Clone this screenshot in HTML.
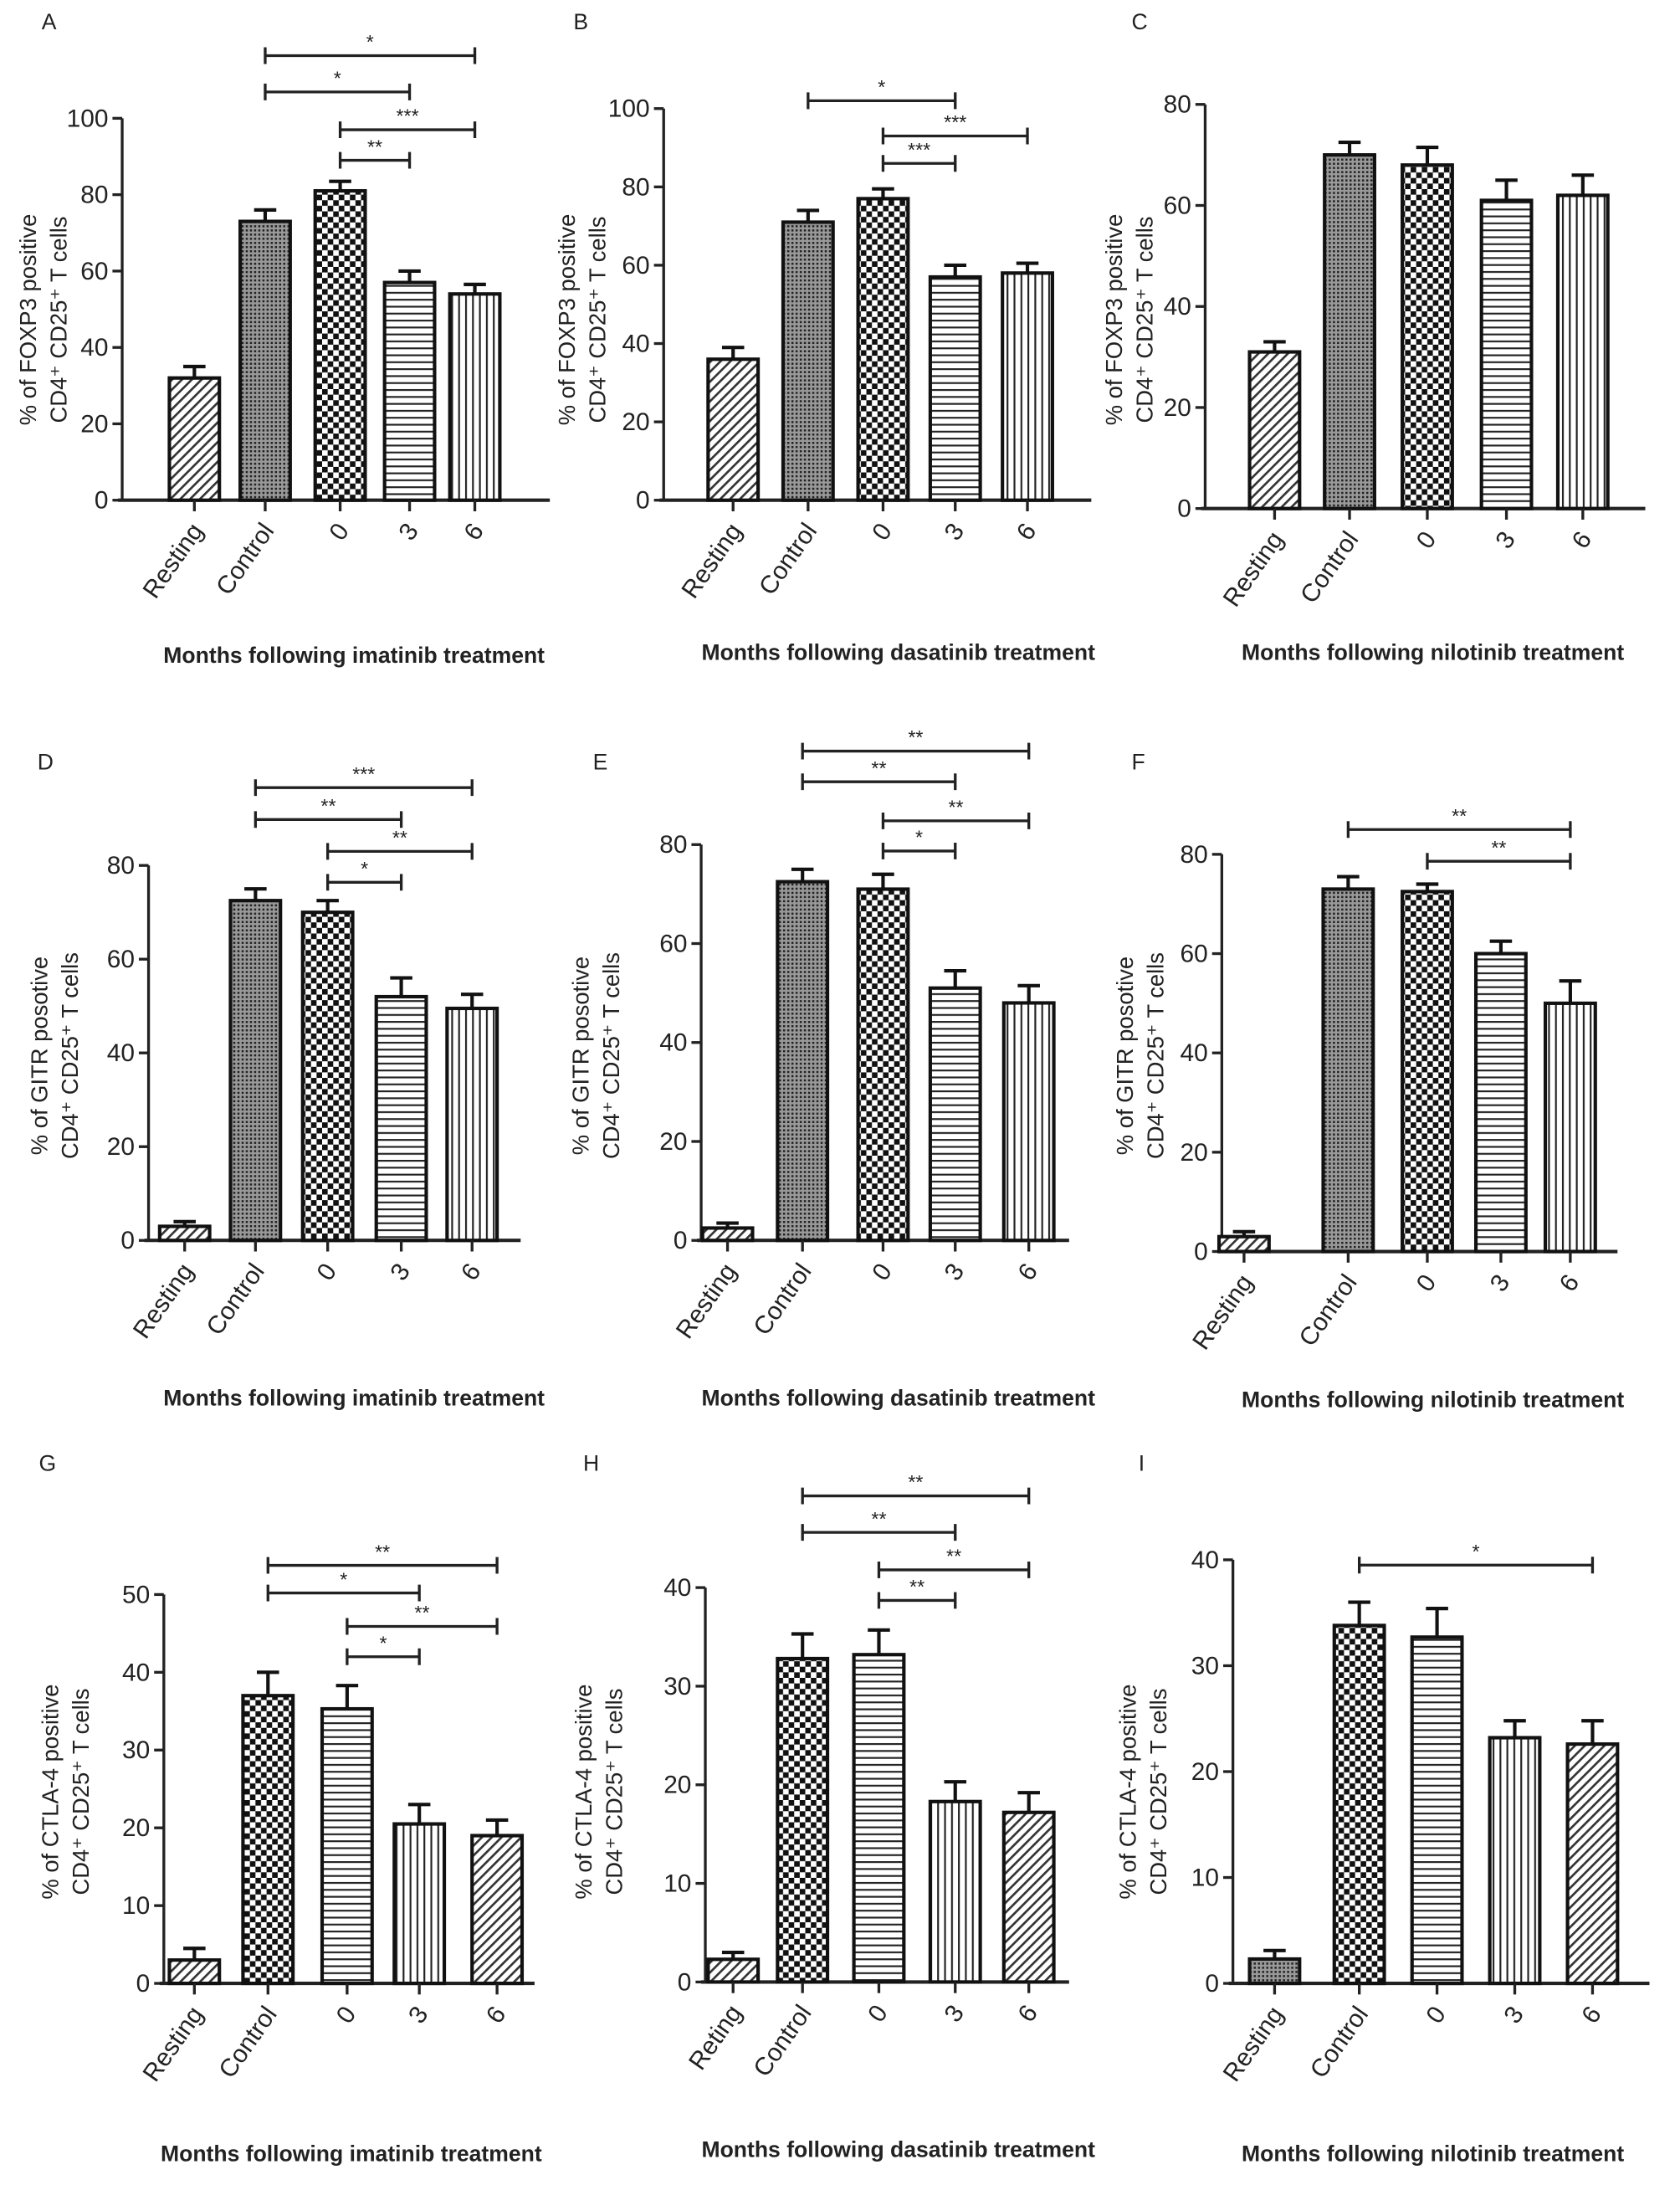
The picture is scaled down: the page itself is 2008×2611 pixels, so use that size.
<!DOCTYPE html>
<html><head><meta charset="utf-8">
<style>
html,body{margin:0;padding:0;background:#fff;}
svg{display:block;}
text{font-family:"Liberation Sans",Arial,sans-serif;fill:#222;}
</style></head>
<body>
<svg id="fig" width="2008" height="2611" viewBox="0 0 1210 1573" xmlns="http://www.w3.org/2000/svg">
<defs>
<pattern id="p-diag" patternUnits="userSpaceOnUse" width="5" height="5" patternTransform="rotate(45)"><rect width="5" height="5" fill="#fff"/><rect width="1.6" height="5" fill="#333"/></pattern>
<pattern id="p-dots" patternUnits="userSpaceOnUse" width="3" height="3"><rect width="3" height="3" fill="#999"/><rect width="1.5" height="1.5" fill="#222"/></pattern>
<pattern id="p-check" patternUnits="userSpaceOnUse" width="8" height="8"><rect width="8" height="8" fill="#fff"/><rect width="4" height="4" fill="#111"/><rect x="4" y="4" width="4" height="4" fill="#111"/></pattern>
<pattern id="p-horiz" patternUnits="userSpaceOnUse" width="5" height="5"><rect width="5" height="5" fill="#fff"/><rect width="5" height="1.3" fill="#222"/></pattern>
<pattern id="p-vert" patternUnits="userSpaceOnUse" width="5" height="5"><rect width="5" height="5" fill="#fff"/><rect width="1.3" height="5" fill="#222"/></pattern>
</defs>
</svg>
<script>
// ---- data ----
const categoriesStd = ["Resting","Control","0","3","6"];
const categoriesH = ["Reting","Control","0","3","6"];
const valuesA = [32,73,81,57,54];       const errorsA = [3,3,2.5,3,2.5];
const valuesB = [36,71,77,57,58];       const errorsB = [3,3,2.5,3,2.5];
const valuesC = [31,70,68,61,62];       const errorsC = [2,2.5,3.5,4,4];
const valuesD = [3,72.5,70,52,49.5];    const errorsD = [1,2.5,2.5,4,3];
const valuesE = [2.5,72.5,71,51,48];    const errorsE = [1,2.5,3,3.5,3.5];
const valuesF = [3,73,72.5,60,50];      const errorsF = [1,2.5,1.5,2.5,4.5];
const valuesG = [3,37,35.3,20.5,19];    const errorsG = [1.5,3,3,2.5,2];
const valuesH = [2.3,32.8,33.2,18.3,17.2]; const errorsH = [0.7,2.5,2.5,2,2];
const valuesI = [2.3,33.8,32.7,23.2,22.6]; const errorsI = [0.8,2.2,2.7,1.6,2.2];
const ticks100 = [0,20,40,60,80,100];
const ticks80 = [0,20,40,60,80];
const ticks50 = [0,10,20,30,40,50];
const ticks40 = [0,10,20,30,40];
// brackets: [fromIndex, toIndex, level(value units), label]
const bracketsA = [[1,4,116.4,"*"],[1,3,106.9,"*"],[2,4,97,"***"],[2,3,89,"**"]];
const bracketsB = [[1,3,102,"*"],[2,4,93,"***"],[2,3,86,"***"]];
const bracketsC = [];
const bracketsD = [[1,4,96.6,"***"],[1,3,89.8,"**"],[2,4,83,"**"],[2,3,76.4,"*"]];
const bracketsE = [[1,4,98.9,"**"],[1,3,92.7,"**"],[2,4,84.8,"**"],[2,3,78.7,"*"]];
const bracketsF = [[1,4,85,"**"],[2,4,78.6,"**"]];
const bracketsG = [[1,4,53.75,"**"],[1,3,50.2,"*"],[2,4,45.9,"**"],[2,3,42,"*"]];
const bracketsH = [[1,4,49.3,"**"],[1,3,45.6,"**"],[2,4,41.8,"**"],[2,3,38.7,"**"]];
const bracketsI = [[1,4,39.5,"*"]];

const NS="http://www.w3.org/2000/svg";
const svg=document.getElementById('fig');
function mk(tag,attrs,parent){const e=document.createElementNS(NS,tag);for(const k in attrs)e.setAttribute(k,attrs[k]);(parent||svg).appendChild(e);return e;}

function panel(c,cats,vals,errs,ticks,brs){
  const g=mk('g',{});
  
  
  const tmax=ticks[ticks.length-1];
  const y=v=>c.y0-v*(c.y0-c.yTop)/tmax;
  const lt=mk('text',{x:c.lx,y:c.ly,'font-size':16},g);lt.textContent=c.letter;
  
  
  const ya=mk('line',{x1:c.ax,y1:c.y0,x2:c.ax,y2:c.yTop,stroke:'#222','stroke-width':2},g);
  
  
  ticks.forEach(t=>{
    mk('line',{x1:c.ax-7,y1:y(t),x2:c.ax,y2:y(t),stroke:'#222','stroke-width':2},g);
    const tt=mk('text',{x:c.ax-10,y:y(t)+6,'font-size':18,'text-anchor':'end'},g);tt.textContent=t;
    
    
  });
  const xa=mk('line',{x1:c.ax-3,y1:c.y0,x2:c.axEnd,y2:c.y0,stroke:'#222','stroke-width':2.5},g);
  
  
  const bw=c.bw||36;
  cats.forEach((cat,i)=>{
    const cx=c.cx[i];
    const top=y(vals[i]);
    const b=mk('rect',{x:cx-bw/2,y:top,width:bw,height:c.y0-top,fill:'url(#p-'+c.pat[i]+')',stroke:'#111','stroke-width':2.5},g);
    
    
    const et=y(vals[i]+errs[i]);
    const eb=mk('path',{d:`M${cx},${top} V${et} M${cx-8},${et} H${cx+8}`,stroke:'#111','stroke-width':2.5,fill:'none'},g);
    
    
    mk('line',{x1:cx,y1:c.y0,x2:cx,y2:c.y0+8,stroke:'#222','stroke-width':2},g);
    const tl=mk('text',{x:cx+7,y:c.y0+22,'font-size':18,'text-anchor':'end',transform:`rotate(-55 ${cx+7} ${c.y0+22})`},g);
    tl.textContent=cat;
    
    
  });
  brs.forEach(br=>{
    const x1=c.cx[br[0]],x2=c.cx[br[1]],by=y(br[2]);
    const p=mk('path',{d:`M${x1},${by-6} V${by+6} M${x1},${by} H${x2} M${x2},${by-6} V${by+6}`,stroke:'#222','stroke-width':2,fill:'none'},g);
    
    
    const st=mk('text',{x:(x1+x2)/2,y:by-5,'font-size':14,'text-anchor':'middle'},g);st.textContent=br[3];
    
    
  });
  const yt=mk('text',{'font-size':16.5,'text-anchor':'middle',transform:`translate(${c.tx},${c.ty}) rotate(-90)`},g);
  const t1=mk('tspan',{x:0,y:0},yt);t1.textContent=c.title;
  const t2=mk('tspan',{x:0,y:22},yt);t2.textContent='CD4\u207A CD25\u207A T cells';
  
  
  const xt=mk('text',{x:c.xlc,y:c.xly,'font-size':16,'text-anchor':'middle','font-weight':'bold',fill:'#222'},g);
  xt.textContent='Months following '+c.drug+' treatment';
  
  
}
const P1=['diag','dots','check','horiz','vert'];
const P3=['diag','check','horiz','vert','diag'];
panel({letter:'A',lx:30,ly:21,ax:88,axEnd:396,y0:360,yTop:85,cx:[140,191,245,295,342],pat:P1,tx:26,ty:230,title:'% of FOXP3 positive',xlc:255,xly:477,drug:'imatinib'},categoriesStd,valuesA,errorsA,ticks100,bracketsA);
panel({letter:'B',lx:413,ly:21,ax:478,axEnd:786,y0:360,yTop:78,cx:[528,582,636,688,740],pat:P1,tx:414,ty:230,title:'% of FOXP3 positive',xlc:647,xly:475,drug:'dasatinib'},categoriesStd,valuesB,errorsB,ticks100,bracketsB);
panel({letter:'C',lx:815,ly:21,ax:868,axEnd:1185,y0:366,yTop:75,cx:[918,972,1028,1085,1140],pat:P1,tx:808,ty:230,title:'% of FOXP3 positive',xlc:1032,xly:475,drug:'nilotinib'},categoriesStd,valuesC,errorsC,ticks80,bracketsC);
panel({letter:'D',lx:27,ly:554,ax:107,axEnd:375,y0:893,yTop:623,cx:[133,184,236,289,340],pat:P1,tx:34,ty:760,title:'% of GITR posotive',xlc:255,xly:1012,drug:'imatinib'},categoriesStd,valuesD,errorsD,ticks80,bracketsD);
panel({letter:'E',lx:427,ly:554,ax:505,axEnd:770,y0:893,yTop:608,cx:[524,578,636,688,741],pat:P1,tx:424,ty:760,title:'% of GITR posotive',xlc:647,xly:1012,drug:'dasatinib'},categoriesStd,valuesE,errorsE,ticks80,bracketsE);
panel({letter:'F',lx:815,ly:554,ax:880,axEnd:1165,y0:901,yTop:615,cx:[896,971,1028,1081,1131],pat:P1,bw:36,tx:816,ty:760,title:'% of GITR posotive',xlc:1032,xly:1013,drug:'nilotinib'},categoriesStd,valuesF,errorsF,ticks80,bracketsF);
panel({letter:'G',lx:28,ly:1059,ax:118,axEnd:385,y0:1428,yTop:1148,cx:[140,193,250,302,358],pat:P3,tx:42,ty:1290,title:'% of CTLA-4 positive',xlc:253,xly:1556,drug:'imatinib'},categoriesStd,valuesG,errorsG,ticks50,bracketsG);
panel({letter:'H',lx:420,ly:1059,ax:508,axEnd:770,y0:1427,yTop:1143,cx:[528,578,633,688,741],pat:P3,tx:426,ty:1290,title:'% of CTLA-4 positive',xlc:647,xly:1553,drug:'dasatinib'},categoriesH,valuesH,errorsH,ticks40,bracketsH);
panel({letter:'I',lx:820,ly:1059,ax:888,axEnd:1188,y0:1428,yTop:1123,cx:[918,979,1035,1091,1147],pat:['dots','check','horiz','vert','diag'],tx:818,ty:1290,title:'% of CTLA-4 positive',xlc:1032,xly:1556,drug:'nilotinib'},categoriesStd,valuesI,errorsI,ticks40,bracketsI);
</script>
</body></html>
